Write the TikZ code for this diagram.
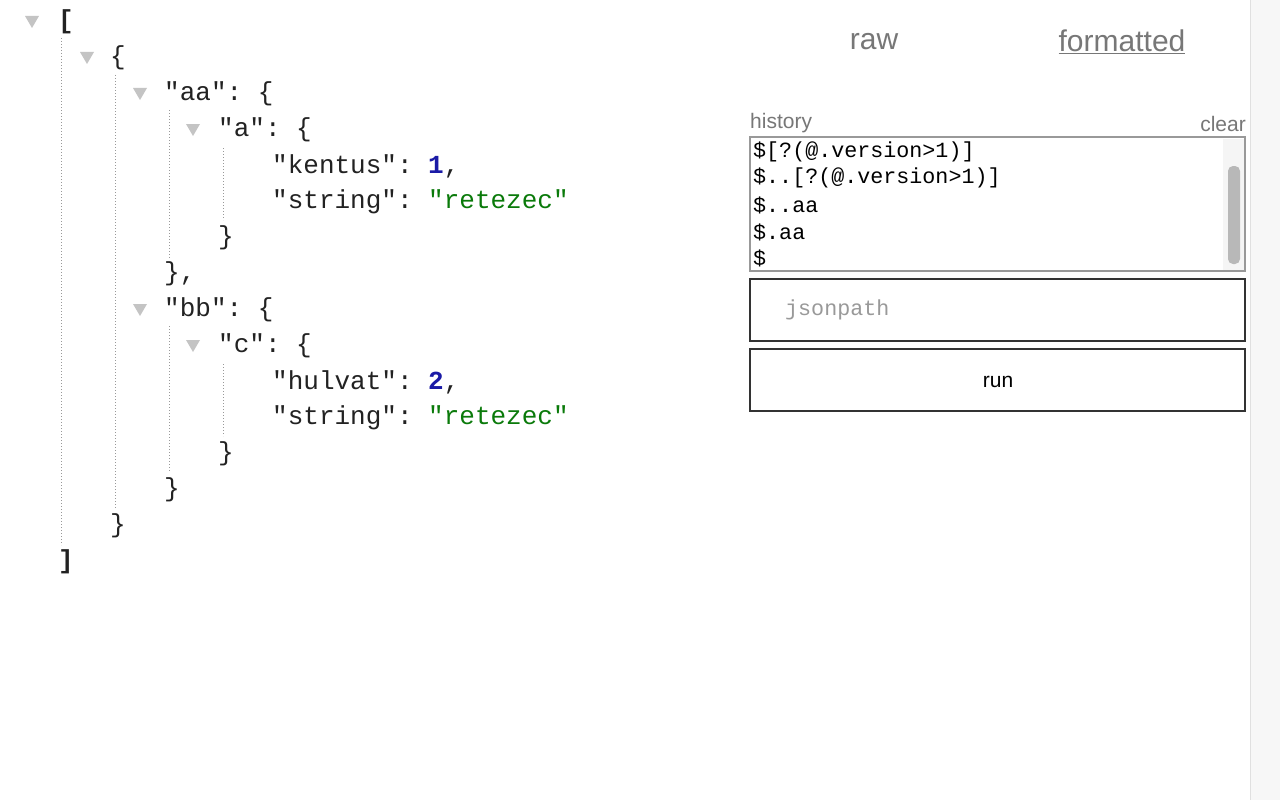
\documentclass[tikz,border=0pt]{standalone}
\usepackage{fontspec}
\setmainfont{Liberation Sans}
\setmonofont{Liberation Mono}
\usetikzlibrary{positioning}
\definecolor{keyblack}{HTML}{222222}
\definecolor{numblue}{HTML}{1A1AA6}
\definecolor{strgreen}{HTML}{0A7A0A}
\definecolor{uigrey}{HTML}{777777}
\definecolor{boxgrey}{HTML}{999999}
\definecolor{tri}{HTML}{C4C4C4}
\tikzset{
  code/.style={anchor=west, inner sep=0pt, text=keyblack, font=\fontsize{26}{26}\selectfont\ttfamily},
  hist/.style={anchor=west, inner sep=0pt, text=black, font=\fontsize{21.7}{21.7}\selectfont\ttfamily},
  ui/.style={inner sep=0pt, text=uigrey, font=\fontsize{30}{30}\selectfont},
  guide/.style={draw=boxgrey, dotted, line width=1pt},
  toggle/.style={fill=tri, draw=none},
  panel/.style={draw=#1, line width=1.5pt},
}
\newcommand{\toggleat}[3]{\fill[toggle] (#2-7,#3-6) -- (#2+7,#3-6) -- (#2,#3+6) -- cycle;
  \coordinate (#1) at (#2,#3);}
\newcommand{\num}[1]{\textcolor{numblue}{\bfseries #1}}
\newcommand{\str}[1]{\textcolor{strgreen}{#1}}
\begin{document}
\begin{tikzpicture}[x=1pt, y=-1pt]
  \useasboundingbox (0,0) rectangle (1280,800);
  \fill[white] (0,0) rectangle (1280,800);
  % page scrollbar
  \fill[black!3] (1250,0) rectangle (1280,800);
  \draw[black!12, line width=1pt] (1250,0) -- (1250,800);

  % tree toggles
  \toggleat{t0}{32}{22}
  \toggleat{t1}{87}{58}
  \toggleat{taa}{140}{94}
  \toggleat{ta}{193}{130}
  \toggleat{tbb}{140}{310}
  \toggleat{tc}{193}{346}

  % json text
  \node[code] (open) at (58,22) {\bfseries [};
  \node[code] (obj) at (110,58) {\{};
  \node[code] (aa) at (164,94) {"aa": \{};
  \node[code] (a) at (218,130) {"a": \{};
  \node[code] (kentus) at (272,166) {"kentus": \num{1},};
  \node[code] (stra) at (272,202) {"string": \str{"retezec"}};
  \node[code] (closea) at (218,238) {\}};
  \node[code] (closeaa) at (164,274) {\},};
  \node[code] (bb) at (164,310) {"bb": \{};
  \node[code] (c) at (218,346) {"c": \{};
  \node[code] (hulvat) at (272,382) {"hulvat": \num{2},};
  \node[code] (strc) at (272,418) {"string": \str{"retezec"}};
  \node[code] (closec) at (218,454) {\}};
  \node[code] (closebb) at (164,490) {\}};
  \node[code] (closeobj) at (110,526) {\}};
  \node[code] (close) at (58,562) {\bfseries ]};

  % guides
  \draw[guide] (61,38) -- (61,545);
  \draw[guide] (115,75) -- (115,508);
  \draw[guide] (169,110) -- (169,258);
  \draw[guide] (169,326) -- (169,472);
  \draw[guide] (223,148) -- (223,220);
  \draw[guide] (223,364) -- (223,436);

  % right panel
  \node[ui] (raw) at (874,42) {raw};
  \node[ui] (formatted) at (1122,42) {\underline{formatted}};
  \node[ui, anchor=west, font=\fontsize{21}{21}\selectfont] (history) at (750,123) {history};
  \node[ui, anchor=east, font=\fontsize{21}{21}\selectfont] (clear) at (1246,124) {clear};
  \draw[panel=boxgrey] (750,137) rectangle (1245,271);
  \fill[black!4] (1223,139) rectangle (1244,270);
  \fill[black!28, rounded corners=5pt] (1228,166) rectangle (1240,264);
  \node[hist] (h1) at (753,152) {\$[?(@.version>1)]};
  \node[hist] (h2) at (753,178) {\$..[?(@.version>1)]};
  \node[hist] (h3) at (753,205) {\$..aa};
  \node[hist] (h4) at (753,232) {\$.aa};
  \node[hist] (h5) at (753,258) {\$};
  \draw[panel=black!80] (750,279) rectangle (1245,341);
  \node[hist, text=black!40] (path) at (785,310) {jsonpath};
  \draw[panel=black!80] (750,349) rectangle (1245,411);
  \node[ui, text=black, font=\fontsize{21}{21}\selectfont] (run) at (998,382) {run};
\end{tikzpicture}
\end{document}
